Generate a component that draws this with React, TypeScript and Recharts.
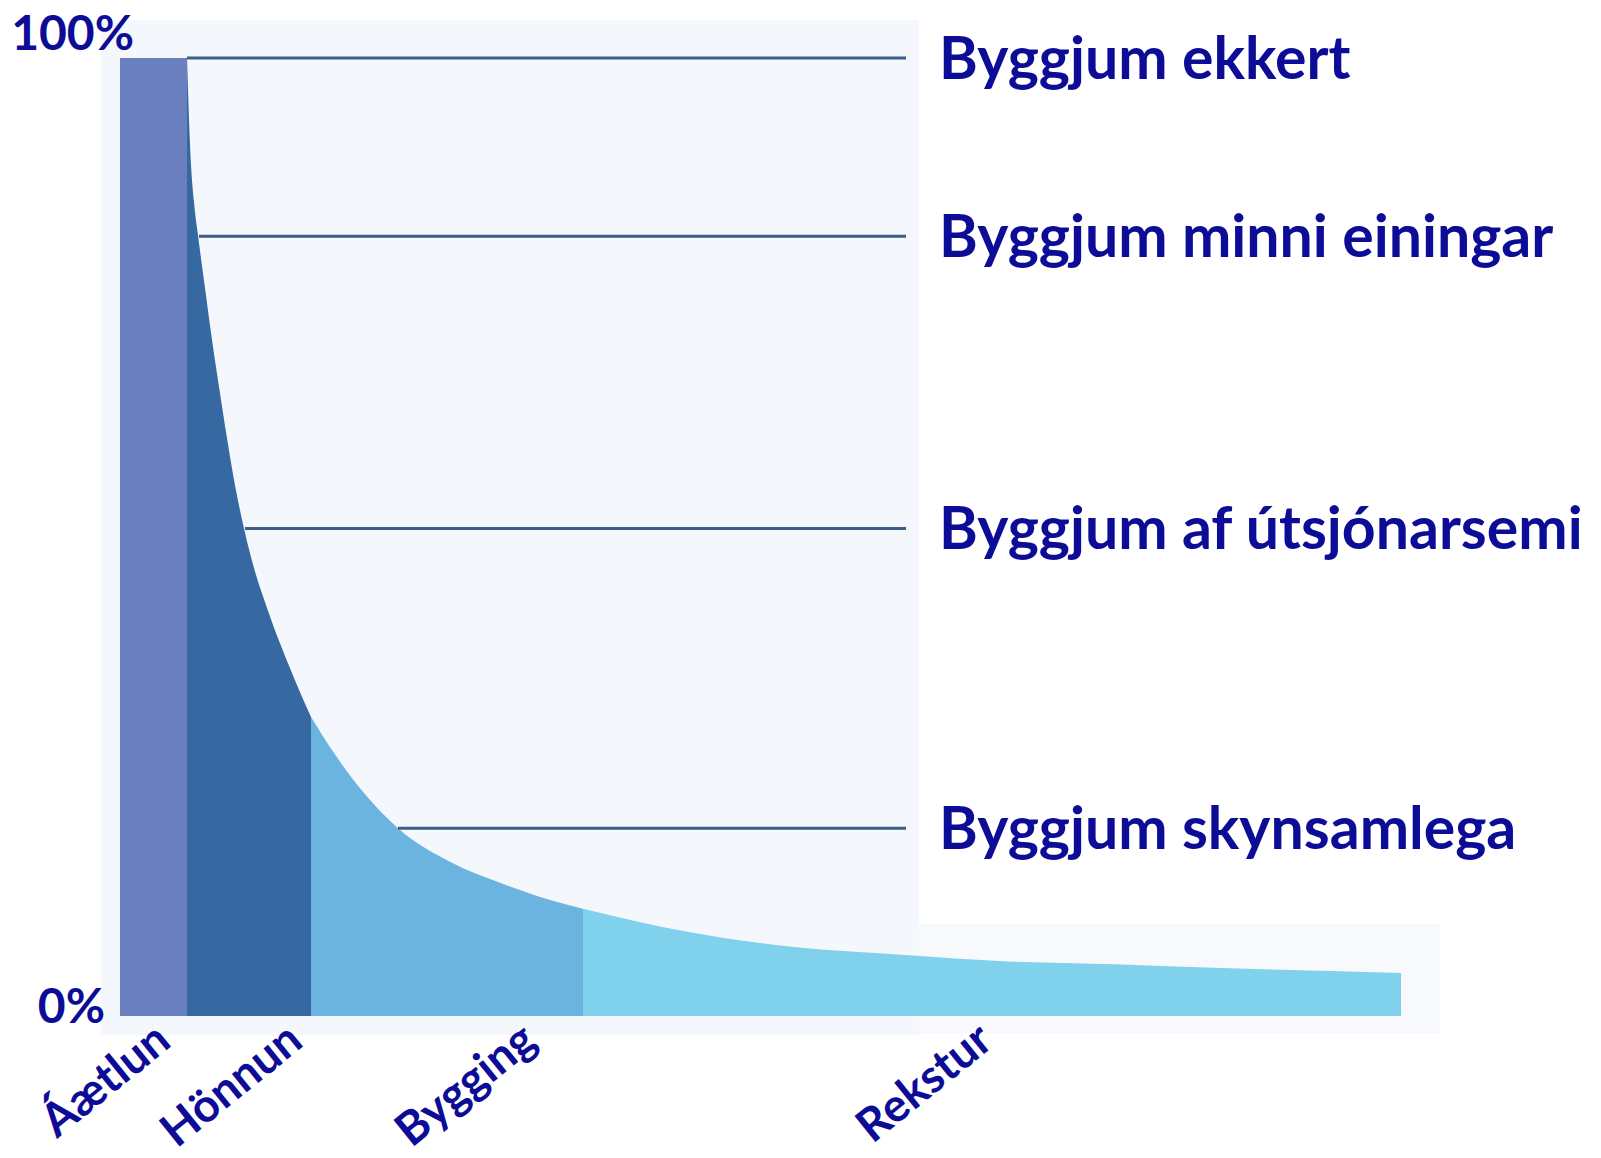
import { Area, ComposedChart, ReferenceLine, XAxis, YAxis } from "recharts";

// phases along the bottom (x in chart units, 1 unit ~ 10px)
const phaseNames = ["Áætlun", "Hönnun", "Bygging", "Rekstur"];
const phaseKeys = ["plan", "design", "build", "ops"];
const phaseStart = [0, 6.7, 19.1, 46.3];
const phaseEnd = [6.7, 19.1, 46.3, 128.1];
const phaseColors = ["#6a7fbd", "#3669a1", "#6bb4e0", "#80d1ec"];
const phaseTickX = [5.3, 18.5, 41.9, 87.5];

// share of influence (%) along the life cycle
const curveX = [
  0, 6.7, 7.0, 7.4, 7.8, 8.5, 9.2, 10.0, 10.7, 11.5, 12.4, 13.5, 14.7, 16.0,
  17.0, 18.0, 19.1, 21.3, 24.7, 27.8, 33.0, 38.0, 43.0, 46.3, 56.7, 67.4, 78.1,
  88.8, 99.5, 110.2, 121.0, 128.1,
];
const curveValue = [
  100, 100, 91, 85, 81.5, 76.0, 70.6, 65.0, 60.3, 55.4, 50.9, 46.4, 42.6, 38.9,
  36.3, 33.8, 31.2, 27.6, 22.9, 19.6, 16.1, 13.9, 12.1, 11.2, 8.8, 7.2, 6.4,
  5.7, 5.4, 5.0, 4.7, 4.5,
];

// horizontal guide lines with their labels
const levelNames = [
  "Byggjum ekkert",
  "Byggjum minni einingar",
  "Byggjum af útsjónarsemi",
  "Byggjum skynsamlega",
];
const levelValue = [100, 81.4, 50.9, 19.6];
const levelStartX = [6.7, 7.9, 12.5, 27.8];
const levelEndX = 78.6;

const yTicks = [0, 100];

const NAVY = "#0c0c96";
const FONT = "Lato, 'Open Sans', sans-serif";

const data = curveX.map((x, i) => {
  const row: Record<string, number> = { x };
  phaseKeys.forEach((k, j) => {
    if (x >= phaseStart[j] && x <= phaseEnd[j]) row[k] = curveValue[i];
  });
  return row;
});

const XTick = ({ x, y, payload }: any) => {
  const idx = phaseTickX.indexOf(payload.value);
  return (
    <g transform={`translate(${x},${y + 29}) rotate(-39)`}>
      <text
        textAnchor="end"
        fill={NAVY}
        fontSize={46}
        fontWeight="bold"
        fontFamily={FONT}
      >
        {phaseNames[idx]}
      </text>
    </g>
  );
};

const YTick = ({ x, y, payload }: any) => {
  const top = payload.value === 100;
  return (
    <text
      x={x + (top ? 14 : -15)}
      y={y + (top ? -8 : 7)}
      textAnchor="end"
      fill={NAVY}
      fontSize={48}
      fontWeight="bold"
      fontFamily={FONT}
    >
      {payload.value}%
    </text>
  );
};

export default function App() {
  return (
    <div
      style={{
        position: "absolute",
        left: 0,
        top: 0,
        width: 1601,
        height: 1158,
        background: "#ffffff",
      }}
    >
      {/* faint panel behind the chart */}
      <div
        style={{
          position: "absolute",
          left: 101,
          top: 20,
          width: 818,
          height: 1015,
          background: "#f4f7fc",
        }}
      />
      <div
        style={{
          position: "absolute",
          left: 919,
          top: 924,
          width: 521,
          height: 109,
          background: "#f7f9fd",
        }}
      />
      <div style={{ position: "absolute", left: 0, top: 0 }}>
        <ComposedChart
          width={1601}
          height={1158}
          data={data}
          margin={{ top: 58, right: 200, left: 0, bottom: 0 }}
        >
          <XAxis
            type="number"
            dataKey="x"
            domain={[0, 128.1]}
            ticks={phaseTickX}
            interval={0}
            tick={<XTick />}
            axisLine={false}
            tickLine={false}
            tickSize={0}
            tickMargin={0}
            height={142}
            allowDataOverflow
          />
          <YAxis
            type="number"
            domain={[0, 100]}
            ticks={yTicks}
            tick={<YTick />}
            axisLine={false}
            tickLine={false}
            tickSize={0}
            tickMargin={0}
            width={120}
            allowDataOverflow
          />
          {phaseKeys.map((k, j) => (
            <Area
              key={k}
              dataKey={k}
              type={j === 0 ? "linear" : "monotone"}
              fill={phaseColors[j]}
              fillOpacity={1}
              stroke="none"
              connectNulls={false}
              dot={false}
              activeDot={false}
              isAnimationActive={false}
            />
          ))}
          {levelNames.map((name, i) => (
            <ReferenceLine
              key={name}
              segment={[
                { x: levelStartX[i], y: levelValue[i] },
                { x: levelEndX, y: levelValue[i] },
              ]}
              stroke="#3c5d86"
              strokeWidth={3}
              ifOverflow="visible"
              label={{
                value: name,
                position: "right",
                offset: 33,
                fill: NAVY,
                fontSize: 59,
                fontWeight: "bold",
                fontFamily: FONT,
              }}
            />
          ))}
        </ComposedChart>
      </div>
    </div>
  );
}
